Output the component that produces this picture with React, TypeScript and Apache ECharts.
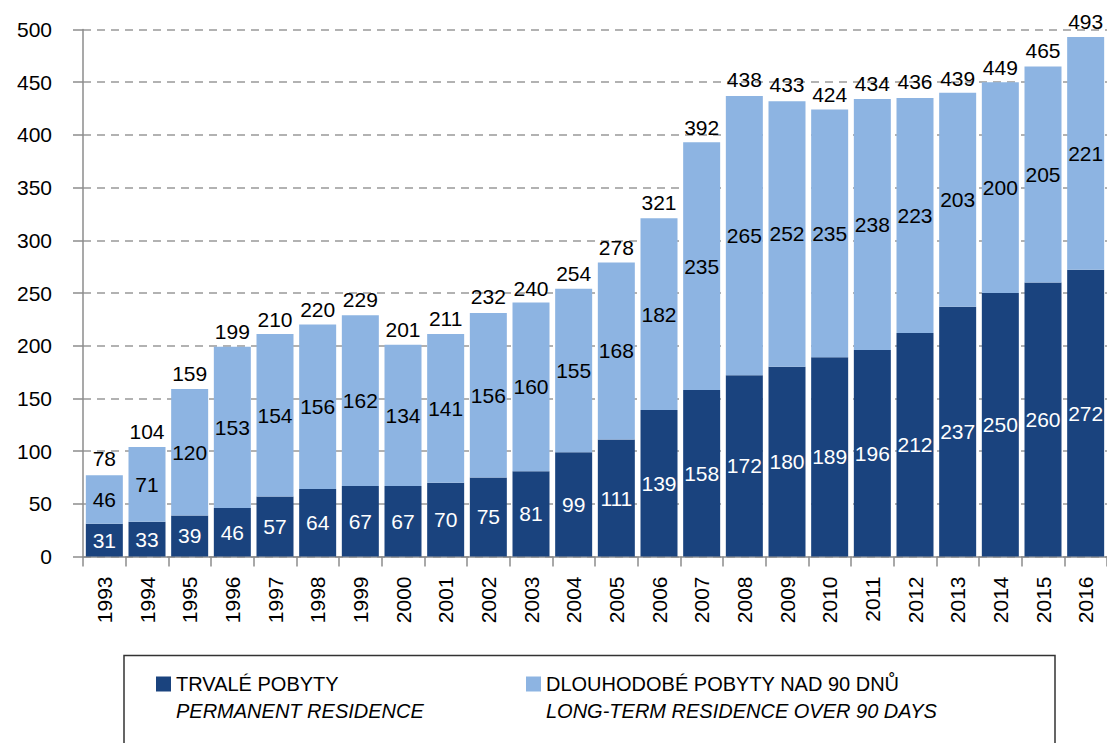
import React, { useEffect, useRef } from "react";
import * as echarts from "echarts";

const years = ["1993","1994","1995","1996","1997","1998","1999","2000","2001","2002","2003","2004","2005","2006","2007","2008","2009","2010","2011","2012","2013","2014","2015","2016"];
const permanent = [31,33,39,46,57,64,67,67,70,75,81,99,111,139,158,172,180,189,196,212,237,250,260,272];
const longTerm = [46,71,120,153,154,156,162,134,141,156,160,155,168,182,235,265,252,235,238,223,203,200,205,221];
const totals = [78,104,159,199,210,220,229,201,211,232,240,254,278,321,392,438,433,424,434,436,439,449,465,493];
const seriesNames = ["TRVALÉ POBYTY", "DLOUHODOBÉ POBYTY NAD 90 DNŮ"];
const seriesNamesEn = ["PERMANENT RESIDENCE", "LONG-TERM RESIDENCE OVER 90 DAYS"];
const unitLabel = "Tisíce/ Thousands";

const FONT = "'Liberation Sans', Arial, sans-serif";
const DARK = "#1A437E";
const LIGHT = "#8DB4E2";

export default function App() {
  const ref = useRef<HTMLDivElement>(null);
  useEffect(() => {
    if (!ref.current) return;
    const chart = echarts.init(ref.current, undefined, { renderer: "svg" });
    const mkLegend = (i: number, left: number) => ({
      data: [seriesNames[i]],
      left,
      top: 674,
      padding: 0,
      icon: "rect",
      itemWidth: 15,
      itemHeight: 15,
      itemGap: 0,
      selectedMode: false,
      formatter: (n: string) => `{a|${n}}\n{b|${seriesNamesEn[i]}}`,
      textStyle: {
        padding: [27, 0, 0, 0],
        rich: {
          a: { fontSize: 20, lineHeight: 27, color: "#000", fontFamily: FONT },
          b: { fontSize: 20, lineHeight: 27, color: "#000", fontStyle: "italic", fontFamily: FONT },
        },
      },
    });
    chart.setOption({
      animation: false,
      textStyle: { fontFamily: FONT },
      grid: { left: 83, top: 29.5, width: 1028, height: 527, containLabel: false },
      legend: [mkLegend(0, 156), mkLegend(1, 526)],
      graphic: [
        {
          type: "rect",
          shape: { x: 124, y: 655.5, width: 931, height: 120 },
          style: { fill: "none", stroke: "#333", lineWidth: 1.5 },
        },
        {
          type: "text",
          x: 197,
          y: 3,
          style: {
            text: unitLabel,
            align: "right",
            verticalAlign: "bottom",
            fontSize: 22,
            fontStyle: "italic",
            fontFamily: FONT,
            fill: "#222",
          },
        },
      ],
      xAxis: {
        type: "category",
        data: years,
        axisLine: { lineStyle: { color: "#8c8c8c", width: 1.5 } },
        axisTick: { show: true, length: 10, interval: 0, lineStyle: { color: "#8c8c8c", width: 1.5 } },
        axisLabel: { rotate: 90, interval: 0, fontSize: 21, color: "#000", margin: 20, fontFamily: FONT },
      },
      yAxis: {
        type: "value",
        min: 0,
        max: 500,
        interval: 50,
        axisLine: { show: true, lineStyle: { color: "#8c8c8c", width: 1.5 } },
        axisTick: { show: true, length: 10, lineStyle: { color: "#8c8c8c", width: 1.5 } },
        axisLabel: { fontSize: 21, color: "#000", margin: 31, fontFamily: FONT },
        splitLine: { show: true, lineStyle: { color: "#999", width: 1.5, type: [8, 6] } },
      },
      series: [
        {
          name: seriesNames[0],
          type: "bar",
          stack: "a",
          barWidth: 37,
          data: permanent,
          itemStyle: { color: DARK },
          label: { show: true, position: "inside", color: "#fff", fontSize: 21, fontFamily: FONT },
        },
        {
          name: seriesNames[1],
          type: "bar",
          stack: "a",
          barWidth: 37,
          data: longTerm,
          itemStyle: { color: LIGHT },
          label: { show: true, position: "inside", color: "#000", fontSize: 21, fontFamily: FONT },
        },
        {
          name: "total",
          type: "scatter",
          data: totals,
          symbolSize: 0,
          itemStyle: { color: "#000", opacity: 1 },
          label: { show: true, position: "top", distance: 5, color: "#000", fontSize: 21, fontFamily: FONT },
          z: 5,
        },
      ],
    });
    return () => chart.dispose();
  }, []);
  return <div ref={ref} style={{ position: "fixed", left: 0, top: 0, width: 1107, height: 743, background: "#fff" }} />;
}
